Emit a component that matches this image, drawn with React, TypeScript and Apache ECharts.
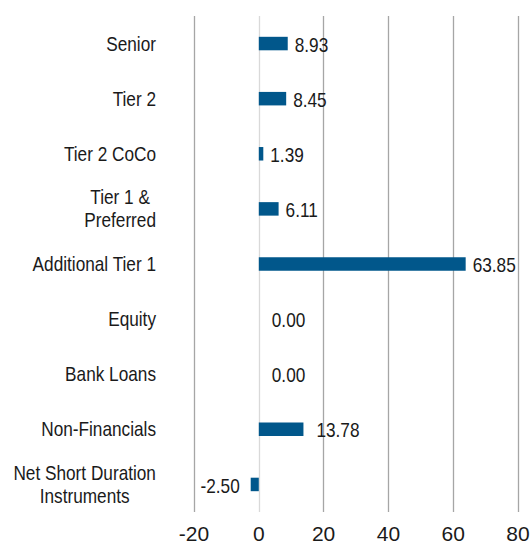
import React, { useEffect, useRef } from "react";
import * as echarts from "echarts";

const categories = [
  "Senior",
  "Tier 2",
  "Tier 2 CoCo",
  "Tier 1 &\nPreferred",
  "Additional Tier 1",
  "Equity",
  "Bank Loans",
  "Non-Financials",
  "Net Short Duration\nInstruments",
];
const values = [8.93, 8.45, 1.39, 6.11, 63.85, 0.0, 0.0, 13.78, -2.5];
const xTicks = { min: -20, max: 80, interval: 20 };

// label placement styling (extra gap for specific labels, as in the reference)
const labelExtraGap: Record<string, number> = { "Non-Financials": 6 };

const FONT_FAMILY = '"Liberation Sans", Arial, sans-serif';
const FONT_SIZE = 21;
const FONT = `${FONT_SIZE}px ${FONT_FAMILY}`;
const NARROW = 0.82;
const TEXT_COLOR = "#1a1a1a";
const BAR_COLOR = "#01578b";
const LINE_H = 23;

let measureCtx: CanvasRenderingContext2D | null = null;
function measure(text: string): number {
  if (!measureCtx) measureCtx = document.createElement("canvas").getContext("2d");
  if (!measureCtx) return text.length * 10;
  measureCtx.font = FONT;
  return measureCtx.measureText(text).width;
}

function narrowText(x: number, y: number, text: string, align: string) {
  return {
    type: "text",
    x,
    y,
    scaleX: NARROW,
    silent: true,
    style: {
      text,
      x: 0,
      y: 0,
      align,
      verticalAlign: "middle",
      font: FONT,
      fill: TEXT_COLOR,
    },
  };
}

export default function App() {
  const ref = useRef<HTMLDivElement>(null);
  useEffect(() => {
    if (!ref.current) return;
    const chart = echarts.init(ref.current, undefined, { renderer: "svg" });

    const gridColors = ["#a6a6a6", "#d9d9d9", "#a6a6a6", "#a6a6a6", "#a6a6a6", "#a6a6a6"];

    chart.setOption({
      animation: false,
      grid: {
        left: 194,
        right: 12,
        top: 16,
        bottom: 32,
        containLabel: false,
        outerBoundsMode: "none",
      },
      xAxis: {
        type: "value",
        min: xTicks.min,
        max: xTicks.max,
        interval: xTicks.interval,
        axisLine: { show: false },
        axisTick: { show: false },
        splitLine: { show: true, lineStyle: { color: gridColors, width: 1.3 } },
        axisLabel: {
          margin: 11,
          fontFamily: FONT_FAMILY,
          fontSize: FONT_SIZE,
          color: TEXT_COLOR,
        },
      },
      yAxis: {
        type: "category",
        inverse: true,
        data: categories,
        axisLine: { show: false },
        axisTick: { show: false },
        axisLabel: { show: false },
      },
      series: [
        {
          type: "bar",
          barWidth: 13.5,
          itemStyle: { color: BAR_COLOR },
          data: values,
        },
        {
          type: "custom",
          coordinateSystem: "cartesian2d",
          clip: false,
          silent: true,
          z: 5,
          encode: { x: 0, y: 1 },
          data: values.map((v, i) => [v, i]),
          renderItem: (params: any, api: any) => {
            const v = api.value(0);
            const idx = api.value(1);
            const [xv, yc] = api.coord([v, idx]);
            const [x0] = api.coord([0, idx]);
            const [xLeft] = api.coord([xTicks.min, idx]);
            const cat = categories[idx];
            const children: any[] = [];
            // value label
            const txt = Number(v).toFixed(2);
            const extra = labelExtraGap[cat] ?? 0;
            if (v < 0) children.push(narrowText(xv - 11, yc + 1, txt, "right"));
            else if (v === 0) children.push(narrowText(x0 + 13, yc + 1, txt, "left"));
            else children.push(narrowText(xv + 7 + extra, yc + 1, txt, "left"));
            // category label
            const anchor = xLeft - 38;
            const lines = cat.split("\n");
            if (lines.length === 1) {
              children.push(narrowText(anchor, yc, cat, "right"));
            } else {
              const w = Math.max(...lines.map(measure)) * NARROW;
              const cx = anchor - w / 2;
              const startY = yc - ((lines.length - 1) * LINE_H) / 2;
              lines.forEach((l, k) => {
                children.push(narrowText(cx, startY + k * LINE_H, l, "center"));
              });
            }
            return { type: "group", children };
          },
        },
      ],
    });
    return () => chart.dispose();
  }, []);
  return <div ref={ref} style={{ width: 530, height: 544, position: "absolute", left: 0, top: 0 }} />;
}
